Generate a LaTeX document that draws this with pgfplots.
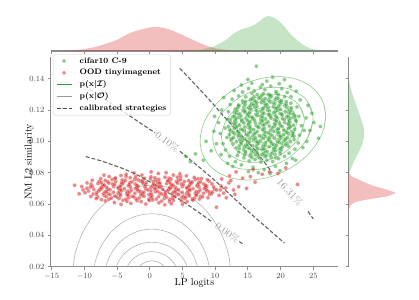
\documentclass[border=0pt]{standalone}
\usepackage{pgfplots}
\pgfplotsset{compat=1.18}
\definecolor{tabgreen}{RGB}{44,160,44}
\definecolor{tabred}{RGB}{214,39,40}
\definecolor{spine}{RGB}{140,140,140}
\protected\def\legfont{\fontsize{8}{9}\selectfont\bfseries}
\protected\def\pxI{{\boldmath$\mathbf{p}(\mathbf{x}|\mathcal{I})$}}
\protected\def\pxO{{\boldmath$\mathbf{p}(\mathbf{x}|\mathcal{O})$}}
\pgfplotsset{
  grayc/.style={smooth, draw=black!42, draw opacity=0.7, line width=0.6pt},
  greenc/.style={smooth, draw=tabgreen, draw opacity=0.55, line width=0.6pt},
  calib/.style={smooth, draw=black!72, draw opacity=0.85, line width=1.1pt, dash pattern=on 4pt off 2pt},
  ptsg/.style={only marks, mark=*, mark size=2.0pt, mark options={draw=white, line width=0.25pt, fill=tabgreen, fill opacity=0.55, draw opacity=0.5}},
  ptsr/.style={only marks, mark=*, mark size=2.0pt, mark options={draw=white, line width=0.25pt, fill=tabred, fill opacity=0.55, draw opacity=0.5}},
  legend image code/.code={\draw[mark repeat=2,mark phase=2,#1] plot coordinates {(0pt,0pt) (7.5pt,0pt) (15pt,0pt)};},
}
\begin{document}
\begin{tikzpicture}
% ---------------- main joint axis ----------------
\begin{axis}[
  at={(0pt,0pt)}, anchor=south west,
  scale only axis, width=287.4pt, height=209.9pt,
  xmin=-15.15, xmax=28.8, ymin=0.02, ymax=0.154,
  axis x line*=bottom, axis y line*=left,
  axis line style={-, spine, line width=1.2pt},
  xtick={-15,-10,-5,0,5,10,15,20,25},
  ytick={0.02,0.04,0.06,0.08,0.10,0.12,0.14},
  scaled y ticks=false,
  y tick label style={/pgf/number format/.cd, fixed, fixed zerofill, precision=2, /tikz/.cd},
  tick label style={font=\fontsize{8}{9}\selectfont, text=black!70},
  tick align=outside, major tick length=2.8pt,
  tick style={spine, line width=0.8pt},
  xlabel={LP logits}, ylabel={NM L2 similarity},
  label style={font=\fontsize{8}{9}\selectfont, text=black!75},
  every axis x label/.style={at={(axis description cs:0.5,-0.079)}, anchor=center},
  every axis y label/.style={at={(axis description cs:-0.0745,0.5)}, anchor=center, rotate=90},
  legend cell align=left,
  legend style={at={(0.009,1.012)}, anchor=north west, draw=black!18, rounded corners=1.5pt,
    fill=white, fill opacity=0.8, text opacity=1, font=\legfont,
    inner xsep=2.5pt, inner ysep=1pt, row sep=0.9pt,
    nodes={text height=5.8pt, text depth=1.6pt, inner ysep=1.8pt, inner xsep=1.6pt},
    /tikz/every odd column/.append style={column sep=6pt}},
]
% ---- green scatter (cifar10 C-9)
\addplot[forget plot, ptsg] coordinates {
(15.35,0.0906) (15.62,0.0896) (16.57,0.0901) (16.85,0.0893) (17.60,0.0903) (17.78,0.0908) (18.58,0.0898) (19.29,0.0894)
(14.48,0.0914) (14.66,0.0925) (15.46,0.0920) (16.17,0.0915) (16.41,0.0927) (17.16,0.0917) (17.43,0.0924) (18.42,0.0912) (18.71,0.0926) (19.14,0.0916) (19.95,0.0921)
(13.60,0.0932) (14.35,0.0946) (14.62,0.0936) (15.61,0.0941) (15.90,0.0933) (16.33,0.0943) (17.14,0.0948) (17.67,0.0938) (17.94,0.0934) (18.89,0.0945) (19.17,0.0940) (19.92,0.0935) (20.10,0.0947)
(13.25,0.0958) (13.68,0.0954) (14.49,0.0965) (15.02,0.0960) (15.29,0.0955) (16.24,0.0967) (16.52,0.0957) (17.27,0.0964) (17.45,0.0952) (18.25,0.0966) (18.96,0.0956) (19.20,0.0961) (19.95,0.0953) (20.22,0.0963) (21.21,0.0968)
(12.74,0.0984) (13.69,0.0972) (13.97,0.0986) (14.72,0.0976) (14.90,0.0981) (15.70,0.0973) (16.41,0.0983) (16.65,0.0988) (17.40,0.0978) (17.67,0.0974) (18.66,0.0985) (18.95,0.0980) (19.38,0.0975) (20.19,0.0987) (20.72,0.0977) (20.99,0.0984)
(12.44,0.1008) (13.24,0.0998) (13.95,0.0994) (14.19,0.1005) (14.94,0.1000) (15.21,0.0995) (16.20,0.1007) (16.49,0.0997) (16.92,0.1004) (17.73,0.0992) (18.26,0.1006) (18.53,0.0996) (19.48,0.1001) (19.76,0.0993) (20.51,0.1003) (20.69,0.1008) (21.49,0.0998)
(12.54,0.1017) (12.81,0.1024) (13.80,0.1012) (14.09,0.1026) (14.52,0.1016) (15.33,0.1021) (15.86,0.1013) (16.13,0.1023) (17.08,0.1028) (17.36,0.1018) (18.11,0.1014) (18.29,0.1025) (19.09,0.1020) (19.80,0.1015) (20.04,0.1027) (20.79,0.1017) (21.06,0.1024) (22.05,0.1012)
(12.18,0.1043) (12.99,0.1048) (13.52,0.1038) (13.79,0.1034) (14.74,0.1045) (15.02,0.1040) (15.77,0.1035) (15.95,0.1047) (16.75,0.1037) (17.46,0.1044) (17.70,0.1032) (18.45,0.1046) (18.72,0.1036) (19.71,0.1041) (20.00,0.1033) (20.43,0.1043) (21.24,0.1048) (21.77,0.1038) (22.04,0.1034)
(12.45,0.1067) (12.73,0.1057) (13.48,0.1064) (13.66,0.1052) (14.46,0.1066) (15.17,0.1056) (15.41,0.1061) (16.16,0.1053) (16.43,0.1063) (17.42,0.1068) (17.71,0.1058) (18.14,0.1054) (18.95,0.1065) (19.48,0.1060) (19.75,0.1055) (20.70,0.1067) (20.98,0.1057) (21.73,0.1064) (21.91,0.1052)
(12.22,0.1073) (12.93,0.1083) (13.17,0.1088) (13.92,0.1078) (14.19,0.1074) (15.18,0.1085) (15.47,0.1080) (15.90,0.1075) (16.71,0.1087) (17.24,0.1077) (17.51,0.1084) (18.46,0.1072) (18.74,0.1086) (19.49,0.1076) (19.67,0.1081) (20.47,0.1073) (21.18,0.1083) (21.42,0.1088) (22.17,0.1078)
(12.00,0.1095) (12.99,0.1107) (13.28,0.1097) (13.71,0.1104) (14.52,0.1092) (15.05,0.1106) (15.32,0.1096) (16.27,0.1101) (16.55,0.1093) (17.30,0.1103) (17.48,0.1108) (18.28,0.1098) (18.99,0.1094) (19.23,0.1105) (19.98,0.1100) (20.25,0.1095) (21.24,0.1107) (21.53,0.1097) (21.96,0.1104)
(12.37,0.1121) (12.90,0.1113) (13.17,0.1123) (14.12,0.1128) (14.40,0.1118) (15.15,0.1114) (15.33,0.1125) (16.13,0.1120) (16.84,0.1115) (17.08,0.1127) (17.83,0.1117) (18.10,0.1124) (19.09,0.1112) (19.38,0.1126) (19.81,0.1116) (20.62,0.1121) (21.15,0.1113) (21.42,0.1123) (22.37,0.1128)
(12.30,0.1140) (13.05,0.1135) (13.23,0.1147) (14.03,0.1137) (14.74,0.1144) (14.98,0.1132) (15.73,0.1146) (16.00,0.1136) (16.99,0.1141) (17.28,0.1133) (17.71,0.1143) (18.52,0.1148) (19.05,0.1138) (19.32,0.1134) (20.27,0.1145) (20.55,0.1140) (21.30,0.1135) (21.48,0.1147) (22.28,0.1137)
(12.69,0.1156) (12.93,0.1161) (13.68,0.1153) (13.95,0.1163) (14.94,0.1168) (15.23,0.1158) (15.66,0.1154) (16.47,0.1165) (17.00,0.1160) (17.27,0.1155) (18.22,0.1167) (18.50,0.1157) (19.25,0.1164) (19.43,0.1152) (20.23,0.1166) (20.94,0.1156) (21.18,0.1161) (21.93,0.1153) (22.20,0.1163)
(12.94,0.1185) (13.23,0.1180) (13.66,0.1175) (14.47,0.1187) (15.00,0.1177) (15.27,0.1184) (16.22,0.1172) (16.50,0.1186) (17.25,0.1176) (17.43,0.1181) (18.23,0.1173) (18.94,0.1183) (19.18,0.1188) (19.93,0.1178) (20.20,0.1174) (21.19,0.1185) (21.48,0.1180) (21.91,0.1175)
(13.06,0.1206) (13.33,0.1196) (14.28,0.1201) (14.56,0.1193) (15.31,0.1203) (15.49,0.1208) (16.29,0.1198) (17.00,0.1194) (17.24,0.1205) (17.99,0.1200) (18.26,0.1195) (19.25,0.1207) (19.54,0.1197) (19.97,0.1204) (20.78,0.1192) (21.31,0.1206) (21.58,0.1196)
(13.43,0.1214) (13.61,0.1225) (14.41,0.1220) (15.12,0.1215) (15.36,0.1227) (16.11,0.1217) (16.38,0.1224) (17.37,0.1212) (17.66,0.1226) (18.09,0.1216) (18.90,0.1221) (19.43,0.1213) (19.70,0.1223) (20.65,0.1228) (20.93,0.1218) (21.68,0.1214)
(13.57,0.1232) (14.32,0.1246) (14.59,0.1236) (15.58,0.1241) (15.87,0.1233) (16.30,0.1243) (17.11,0.1248) (17.64,0.1238) (17.91,0.1234) (18.86,0.1245) (19.14,0.1240) (19.89,0.1235) (20.07,0.1247) (20.87,0.1237) (21.58,0.1244)
(14.18,0.1258) (14.61,0.1254) (15.42,0.1265) (15.95,0.1260) (16.22,0.1255) (17.17,0.1267) (17.45,0.1257) (18.20,0.1264) (18.38,0.1252) (19.18,0.1266) (19.89,0.1256) (20.13,0.1261) (20.88,0.1253)
(14.69,0.1284) (15.64,0.1272) (15.92,0.1286) (16.67,0.1276) (16.85,0.1281) (17.65,0.1273) (18.36,0.1283) (18.60,0.1288) (19.35,0.1278) (19.62,0.1274) (20.61,0.1285)
(15.63,0.1308) (16.43,0.1298) (17.14,0.1294) (17.38,0.1305) (18.13,0.1300) (18.40,0.1295) (19.39,0.1307) (19.68,0.1297)
(14.2,0.1315) (15.1,0.1338) (16.0,0.1322) (16.9,0.1345) (17.6,0.1330) (18.5,0.1352) (19.3,0.1318) (20.2,0.1336) (21.0,0.1312) (13.6,0.1290) (21.6,0.1285) (15.6,0.1372) (17.9,0.1385) (19.8,0.1368) (14.0,0.1360) (21.5,0.1350) (18.8,0.1410) (16.3,0.1480) (20.6,0.1395) (12.9,0.1325) (22.4,0.1320) (17.2,0.1362) (15.0,0.1395)
(11.8,0.1025) (11.5,0.1085) (11.9,0.1140) (11.2,0.0985) (10.8,0.1050) (12.0,0.1190) (10.5,0.1120) (11.6,0.0945) (10.2,0.0985) (9.8,0.1065) (12.3,0.1235) (11.0,0.1200) (9.4,0.0940) (8.6,0.1000) (10.9,0.0915) (12.2,0.0905) (7.0,0.0920) (6.2,0.0870) (5.5,0.0905) (8.2,0.0880) (12.6,0.1270) (11.3,0.1280) (9.9,0.1160)
(22.9,0.1040) (23.2,0.1100) (22.8,0.1160) (23.6,0.1070) (22.7,0.0990) (23.9,0.1150) (22.5,0.1220) (24.5,0.1070) (23.4,0.0960) (24.2,0.1230) (25.8,0.1020) (24.8,0.1180) (23.0,0.1265) (25.1,0.1120) (22.2,0.0950) (24.0,0.1000) (26.1,0.1095)
(14.4,0.0895) (15.2,0.0875) (16.1,0.0885) (17.0,0.0868) (17.9,0.0880) (18.8,0.0872) (19.7,0.0890) (20.6,0.0905) (21.3,0.0925) (13.4,0.0910) (14.0,0.0850) (15.8,0.0835) (17.5,0.0820) (19.2,0.0842) (20.9,0.0860) (13.1,0.0870) (16.6,0.0800) (18.4,0.0795) (21.8,0.0890) (12.7,0.0840) (19.9,0.0812) (15.1,0.0808) (11.9,0.0860) (22.3,0.0880)
};
% ---- red scatter (OOD tinyimagenet)
\addplot[forget plot, ptsr] coordinates {
(-4.09,0.0624) (-3.49,0.0617) (-1.94,0.0621) (-1.32,0.0615) (-0.04,0.0622) (0.46,0.0626) (1.81,0.0619) (3.02,0.0616) (3.60,0.0623) (4.86,0.0620)
(-6.25,0.0631) (-5.90,0.0638) (-4.70,0.0635) (-3.64,0.0631) (-3.21,0.0640) (-2.10,0.0633) (-1.63,0.0638) (-0.17,0.0629) (0.32,0.0639) (1.00,0.0632) (2.22,0.0636) (3.05,0.0630) (3.50,0.0637) (4.90,0.0641) (5.37,0.0634) (6.50,0.0631) (6.85,0.0638)
(-7.94,0.0644) (-6.98,0.0654) (-6.66,0.0647) (-5.35,0.0651) (-5.01,0.0645) (-4.48,0.0652) (-3.41,0.0656) (-2.73,0.0649) (-2.43,0.0646) (-1.18,0.0653) (-0.86,0.0650) (0.12,0.0646) (0.32,0.0655) (1.37,0.0648) (2.28,0.0653) (2.56,0.0644) (3.52,0.0654) (3.84,0.0647) (5.15,0.0651) (5.49,0.0645) (6.02,0.0652) (7.09,0.0656) (7.77,0.0649) (8.07,0.0646)
(-8.66,0.0664) (-8.13,0.0661) (-7.06,0.0668) (-6.38,0.0665) (-6.08,0.0661) (-4.83,0.0670) (-4.51,0.0663) (-3.53,0.0668) (-3.33,0.0659) (-2.28,0.0669) (-1.37,0.0662) (-1.09,0.0666) (-0.13,0.0660) (0.19,0.0667) (1.50,0.0671) (1.84,0.0664) (2.37,0.0661) (3.44,0.0668) (4.12,0.0665) (4.42,0.0661) (5.67,0.0670) (5.99,0.0663) (6.97,0.0668) (7.17,0.0659) (8.22,0.0669) (9.13,0.0662) (9.41,0.0666)
(-9.36,0.0683) (-8.11,0.0674) (-7.79,0.0684) (-6.81,0.0677) (-6.61,0.0681) (-5.56,0.0675) (-4.65,0.0682) (-4.37,0.0686) (-3.41,0.0679) (-3.09,0.0676) (-1.78,0.0683) (-1.44,0.0680) (-0.91,0.0676) (0.16,0.0685) (0.84,0.0678) (1.14,0.0683) (2.39,0.0674) (2.71,0.0684) (3.69,0.0677) (3.89,0.0681) (4.94,0.0675) (5.85,0.0682) (6.13,0.0686) (7.09,0.0679) (7.41,0.0676) (8.72,0.0683) (9.06,0.0680) (9.59,0.0676)
(-9.60,0.0701) (-8.55,0.0694) (-7.64,0.0691) (-7.36,0.0698) (-6.40,0.0695) (-6.08,0.0691) (-4.77,0.0700) (-4.43,0.0693) (-3.90,0.0698) (-2.83,0.0689) (-2.15,0.0699) (-1.85,0.0692) (-0.60,0.0696) (-0.28,0.0690) (0.70,0.0697) (0.90,0.0701) (1.95,0.0694) (2.86,0.0691) (3.14,0.0698) (4.10,0.0695) (4.42,0.0691) (5.73,0.0700) (6.07,0.0693) (6.60,0.0698) (7.67,0.0689) (8.35,0.0699) (8.65,0.0692) (9.90,0.0696) (10.22,0.0690)
(-9.09,0.0708) (-8.77,0.0713) (-7.46,0.0704) (-7.12,0.0714) (-6.59,0.0707) (-5.52,0.0711) (-4.84,0.0705) (-4.54,0.0712) (-3.29,0.0716) (-2.97,0.0709) (-1.99,0.0706) (-1.79,0.0713) (-0.74,0.0710) (0.17,0.0706) (0.45,0.0715) (1.41,0.0708) (1.73,0.0713) (3.04,0.0704) (3.38,0.0714) (3.91,0.0707) (4.98,0.0711) (5.66,0.0705) (5.96,0.0712) (7.21,0.0716) (7.53,0.0709) (8.51,0.0706) (8.71,0.0713) (9.76,0.0710)
(-8.99,0.0727) (-7.92,0.0731) (-7.24,0.0724) (-6.94,0.0721) (-5.69,0.0728) (-5.37,0.0725) (-4.39,0.0721) (-4.19,0.0730) (-3.14,0.0723) (-2.23,0.0728) (-1.95,0.0719) (-0.99,0.0729) (-0.67,0.0722) (0.64,0.0726) (0.98,0.0720) (1.51,0.0727) (2.58,0.0731) (3.26,0.0724) (3.56,0.0721) (4.81,0.0728) (5.13,0.0725) (6.11,0.0721) (6.31,0.0730) (7.36,0.0723) (8.27,0.0728) (8.55,0.0719) (9.51,0.0729)
(-7.75,0.0745) (-7.43,0.0738) (-6.45,0.0743) (-6.25,0.0734) (-5.20,0.0744) (-4.29,0.0737) (-4.01,0.0741) (-3.05,0.0735) (-2.73,0.0742) (-1.42,0.0746) (-1.08,0.0739) (-0.55,0.0736) (0.52,0.0743) (1.20,0.0740) (1.50,0.0736) (2.75,0.0745) (3.07,0.0738) (4.05,0.0743) (4.25,0.0734) (5.30,0.0744) (6.21,0.0737) (6.49,0.0741) (7.45,0.0735) (7.77,0.0742) (9.08,0.0746)
(-6.82,0.0750) (-5.76,0.0757) (-5.33,0.0761) (-4.22,0.0754) (-3.75,0.0751) (-2.29,0.0758) (-1.80,0.0755) (-1.12,0.0751) (0.10,0.0760) (0.93,0.0753) (1.38,0.0758) (2.78,0.0749) (3.25,0.0759) (4.38,0.0752) (4.73,0.0756) (5.93,0.0750) (6.99,0.0757) (7.42,0.0761)
(-5.25,0.0766) (-3.64,0.0775) (-3.00,0.0768) (-2.17,0.0773) (-0.80,0.0764) (0.18,0.0774) (0.78,0.0767) (2.33,0.0771) (2.95,0.0765) (4.23,0.0772) (4.73,0.0776)
(-10.2,0.0690) (-9.9,0.0672) (-10.4,0.0712) (-11.5,0.0720) (-9.6,0.0735) (-8.8,0.0752) (-9.0,0.0648) (-8.2,0.0635) (-10.8,0.0665) (-7.5,0.0762)
(-6.2,0.0775) (-3.6,0.0790) (-1.2,0.0785) (1.3,0.0795) (3.6,0.0785) (5.6,0.0780) (6.8,0.0770) (-4.4,0.0782) (0.2,0.0805) (2.5,0.0800) (-2.4,0.0798) (7.9,0.0762) (8.8,0.0755) (4.6,0.0793) (-7.0,0.0785)
(-6.8,0.0620) (-5.4,0.0610) (-2.9,0.0605) (-0.6,0.0600) (1.4,0.0608) (3.3,0.0602) (5.7,0.0615) (6.6,0.0625) (7.6,0.0632) (8.9,0.0640) (-7.4,0.0628) (2.3,0.0595) (10.2,0.0580) (5.0,0.0598) (-4.4,0.0598)
(10.8,0.0690) (10.9,0.0715) (11.3,0.0670) (11.6,0.0702) (10.6,0.0655) (12.1,0.0735) (12.8,0.0690) (12.4,0.0750) (13.6,0.0710) (14.2,0.0765) (13.2,0.0805) (15.4,0.0775) (16.1,0.0740) (17.2,0.0790) (18.3,0.0805) (19.6,0.0795) (22.6,0.0725) (11.0,0.0760) (14.8,0.0700) (20.8,0.0830) (15.8,0.0820) (12.2,0.0780) (11.7,0.0640) (13.0,0.0662)
};
% ---- gray contours p(x|O)
\addplot[forget plot, grayc] coordinates {(2.97,0.012) (2.88,0.01503) (2.61,0.01785) (2.19,0.02027) (1.64,0.02213) (0.99,0.0233) (0.3,0.0237) (-0.39,0.0233) (-1.04,0.02213) (-1.59,0.02027) (-2.01,0.01785) (-2.28,0.01503) (-2.37,0.012)};
\addplot[forget plot, grayc] coordinates {(4.51,0.012) (4.37,0.01656) (3.95,0.0208) (3.28,0.02444) (2.41,0.02724) (1.39,0.029) (0.3,0.0296) (-0.79,0.029) (-1.81,0.02724) (-2.68,0.02444) (-3.35,0.0208) (-3.77,0.01656) (-3.91,0.012)};
\addplot[forget plot, grayc] coordinates {(6.09,0.012) (5.89,0.01811) (5.31,0.0238) (4.39,0.02869) (3.2,0.03244) (1.8,0.0348) (0.3,0.0356) (-1.2,0.0348) (-2.6,0.03244) (-3.79,0.02869) (-4.71,0.0238) (-5.29,0.01811) (-5.49,0.012)};
\addplot[forget plot, grayc] coordinates {(7.53,0.012) (7.28,0.02028) (6.56,0.028) (5.41,0.03463) (3.92,0.03971) (2.17,0.04291) (0.3,0.044) (-1.57,0.04291) (-3.32,0.03971) (-4.81,0.03463) (-5.96,0.028) (-6.68,0.02028) (-6.93,0.012)};
\addplot[forget plot, grayc] coordinates {(9.27,0.012) (8.96,0.02282) (8.07,0.0329) (6.64,0.04156) (4.79,0.0482) (2.62,0.05238) (0.3,0.0538) (-2.02,0.05238) (-4.19,0.0482) (-6.04,0.04156) (-7.47,0.0329) (-8.36,0.02282) (-8.67,0.012)};
\addplot[forget plot, grayc] coordinates {(12.46,0.012) (12.05,0.02753) (10.83,0.042) (8.9,0.05443) (6.38,0.06396) (3.45,0.06995) (0.3,0.072) (-2.85,0.06995) (-5.78,0.06396) (-8.3,0.05443) (-10.23,0.042) (-11.45,0.02753) (-11.86,0.012)};
% ---- green contours p(x|I)
\addplot[forget plot, greenc] coordinates {(26.57,0.1076) (26.9,0.1162) (26.57,0.1242) (25.61,0.1312) (24.09,0.1366) (22.1,0.1401) (19.78,0.1414) (17.3,0.1404) (14.82,0.1373) (12.5,0.1322) (10.51,0.1254) (8.99,0.1175) (8.03,0.1090) (7.7,0.1004) (8.03,0.0924) (8.99,0.0854) (10.51,0.0800) (12.5,0.0766) (14.82,0.0753) (17.3,0.0762) (19.78,0.0793) (22.1,0.0845) (24.09,0.0912) (25.61,0.0991) (26.57,0.1076) (26.9,0.1162) (26.57,0.1242)};
\addplot[forget plot, greenc] coordinates {(23.95,0.1009) (24.98,0.1146) (23.95,0.1266) (21.14,0.1337) (17.3,0.1340) (13.46,0.1274) (10.65,0.1157) (9.62,0.1020) (10.65,0.0900) (13.46,0.0829) (17.3,0.0826) (21.14,0.0892) (23.95,0.1009) (24.98,0.1146) (23.95,0.1266)};
\addplot[forget plot, greenc] coordinates {(22.78,0.1022) (23.64,0.1135) (22.78,0.1234) (20.47,0.1293) (17.3,0.1295) (14.13,0.1240) (11.82,0.1144) (10.96,0.1031) (11.82,0.0932) (14.13,0.0873) (17.3,0.0871) (20.47,0.0926) (22.78,0.1022) (23.64,0.1135) (22.78,0.1234)};
\addplot[forget plot, greenc] coordinates {(21.75,0.1034) (22.45,0.1125) (21.75,0.1206) (19.87,0.1253) (17.3,0.1255) (14.73,0.1211) (12.85,0.1132) (12.15,0.1041) (12.85,0.0960) (14.73,0.0913) (17.3,0.0911) (19.87,0.0955) (21.75,0.1034) (22.45,0.1125) (21.75,0.1206)};
\addplot[forget plot, greenc] coordinates {(20.76,0.1045) (21.29,0.1116) (20.76,0.1178) (19.3,0.1215) (17.3,0.1217) (15.3,0.1182) (13.84,0.1121) (13.31,0.1050) (13.84,0.0988) (15.3,0.0951) (17.3,0.0950) (19.3,0.0984) (20.76,0.1045) (21.29,0.1116) (20.76,0.1178)};
\addplot[forget plot, greenc] coordinates {(19.64,0.1057) (20.0,0.1105) (19.64,0.1147) (18.65,0.1172) (17.3,0.1173) (15.95,0.1150) (14.96,0.1109) (14.6,0.1061) (14.96,0.1019) (15.95,0.0994) (17.3,0.0993) (18.65,0.1016) (19.64,0.1057) (20.0,0.1105) (19.64,0.1147)};
% ---- calibrated strategies (dashed)
\addplot[forget plot, calib] coordinates {(-9.8,0.0903) (-7.8,0.0880) (-5.8,0.0852) (-3.6,0.0818) (-1.5,0.0777) (1.5,0.0705) (4.6,0.0628) (7.0,0.0561) (9.6,0.0484)};
\addplot[forget plot, calib] coordinates {(13.7,0.0360) (14.15,0.0347)};
\addplot[forget plot, calib] coordinates {(-10,0.1355) (-7.4,0.1285) (-4.5,0.1203) (-1.5,0.1119) (0.8,0.1055)};
\addplot[forget plot, calib] coordinates {(4.6,0.0937) (7.0,0.0855) (9.5,0.0767) (12.6,0.0648) (15.8,0.0525) (18.2,0.0438) (20.6,0.0350)};
\addplot[forget plot, calib] coordinates {(4.6,0.1466) (6.9,0.1365) (9.4,0.1252) (11.8,0.1138) (14.0,0.1040) (15.8,0.0958) (17.3,0.0880) (18.7,0.0800)};
\addplot[forget plot, calib] coordinates {(24.2,0.0553) (25.0,0.0505)};
\node[rotate=-37, text=black!38, font=\fontsize{10.5}{12}\selectfont] at (axis cs:2.7,0.0996) {0.10\%};
\node[rotate=-47, text=black!38, font=\fontsize{10.5}{12}\selectfont] at (axis cs:21.45,0.0677) {16.31\%};
\node[rotate=-36, text=black!38, font=\fontsize{10.5}{12}\selectfont] at (axis cs:11.9,0.0418) {0.00\%};
% ---- legend
\addlegendimage{only marks, mark=*, mark size=2.1pt, mark options={draw=white, fill=tabgreen, fill opacity=0.55}}
\addlegendentry{cifar10 C-9}
\addlegendimage{only marks, mark=*, mark size=2.1pt, mark options={draw=white, fill=tabred, fill opacity=0.55}}
\addlegendentry{OOD tinyimagenet}
\addlegendimage{draw=tabgreen, line width=0.8pt}
\addlegendentry{\pxI}
\addlegendimage{draw=black!40, line width=0.8pt}
\addlegendentry{\pxO}
\addlegendimage{draw=black!72, line width=1.1pt, dash pattern=on 4pt off 2pt}
\addlegendentry{calibrated strategies}
\end{axis}
% ---------------- top marginal ----------------
\begin{axis}[
  at={(0pt,215.7pt)}, anchor=south west,
  scale only axis, width=287.4pt, height=37pt,
  xmin=-15.15, xmax=28.8, ymin=0, ymax=1.057,
  axis x line*=bottom, axis y line=none,
  axis line style={-, spine, line width=1.2pt},
  xtick={-15,-10,-5,0,5,10,15,20,25}, xticklabels={}, ytick=\empty,
  tick align=outside, major tick length=2.8pt,
  tick style={spine, line width=0.8pt},
]
\addplot[smooth, fill=tabred, fill opacity=0.3, draw=none] coordinates {
(-14.5,0) (-12.5,0.01) (-10.5,0.04) (-8.5,0.11) (-6.5,0.22) (-5,0.32) (-3.5,0.47) (-2,0.58) (-0.5,0.65) (0.7,0.69) (2,0.665) (3.2,0.6) (4.5,0.5) (6,0.37) (7.5,0.24) (9,0.13) (10.5,0.06) (12,0.025) (14,0.012) (17,0.008) (20,0.004) (23,0)};
\addplot[smooth, fill=tabgreen, fill opacity=0.27, draw=none] coordinates {
(3,0) (6,0.01) (8,0.04) (10,0.15) (11.5,0.3) (13,0.52) (14.2,0.63) (15.3,0.69) (16.3,0.78) (17.2,0.92) (18.1,1.0) (19,0.95) (19.9,0.83) (20.8,0.65) (21.6,0.47) (22.6,0.3) (23.6,0.16) (24.6,0.07) (25.6,0.025) (27,0.005) (28.5,0)};
\end{axis}
% ---------------- right marginal ----------------
\begin{axis}[
  at={(297.6pt,0pt)}, anchor=south west,
  scale only axis, width=50pt, height=209.9pt,
  xmin=0, xmax=1.055, ymin=0.02, ymax=0.154,
  axis y line*=left, axis x line=none,
  axis line style={-, spine, line width=1.2pt},
  ytick={0.02,0.04,0.06,0.08,0.10,0.12,0.14}, yticklabels={}, xtick=\empty,
  tick align=outside, major tick length=2.8pt,
  tick style={spine, line width=0.8pt},
]
\addplot[smooth, fill=tabgreen, fill opacity=0.27, draw=none] coordinates {
(0,0.1425) (0.02,0.1385) (0.06,0.133) (0.11,0.128) (0.18,0.122) (0.25,0.116) (0.31,0.1105) (0.338,0.106) (0.32,0.101) (0.28,0.097) (0.21,0.0925) (0.14,0.0884) (0.08,0.0845) (0.035,0.081) (0.01,0.078) (0,0.076)};
\addplot[smooth, fill=tabred, fill opacity=0.3, draw=none] coordinates {
(0,0.0815) (0.02,0.0795) (0.06,0.0778) (0.14,0.0767) (0.3,0.0745) (0.46,0.0724) (0.65,0.0706) (0.81,0.0692) (0.95,0.0678) (1.0,0.0671) (0.94,0.0662) (0.81,0.0649) (0.6,0.0638) (0.39,0.0628) (0.2,0.0616) (0.105,0.0606) (0.05,0.0592) (0.02,0.0574) (0,0.0555)};
\end{axis}
\pgfresetboundingbox
\path[use as bounding box] (-50.7pt,-32.3pt) rectangle (368.3pt,266.7pt);
\end{tikzpicture}
\end{document}
